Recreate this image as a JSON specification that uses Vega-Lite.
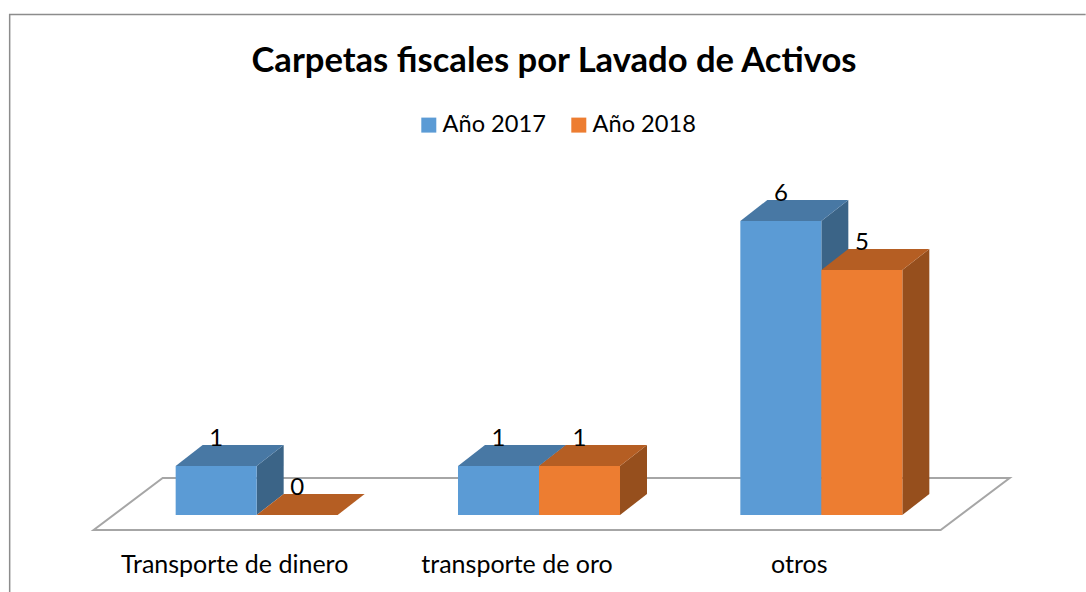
{
  "$schema": "https://vega.github.io/schema/vega-lite/v6.json",
  "width": 1086,
  "height": 592,
  "autosize": "none",
  "padding": 0,
  "background": "white",
  "view": {"stroke": null},
  "title": {"text": "Carpetas fiscales por Lavado de Activos", "font": "Lato", "fontSize": 34.6, "fontWeight": "bold", "color": "#000000", "anchor": "middle", "frame": "group", "dx": 11, "dy": 84},
  "data": {"values": [
    {"category": "Transporte de dinero", "series": "Año 2017", "value": 1},
    {"category": "Transporte de dinero", "series": "Año 2018", "value": 0},
    {"category": "transporte de oro", "series": "Año 2017", "value": 1},
    {"category": "transporte de oro", "series": "Año 2018", "value": 1},
    {"category": "otros", "series": "Año 2017", "value": 6},
    {"category": "otros", "series": "Año 2018", "value": 5}
  ]},
  "encoding": {
    "x": {"field": "category", "type": "nominal", "sort": ["Transporte de dinero", "transporte de oro", "otros"],
      "scale": {"domain": ["Transporte de dinero", "transporte de oro", "otros"], "range": [115.5, 962.5], "paddingInner": 0.4262, "paddingOuter": 0.2131},
      "axis": {"title": null, "orient": "bottom", "offset": -40, "labelOffset": -22, "labelAngle": 0, "labelPadding": 0, "labelFont": "Lato", "labelFontSize": 25, "labelColor": "#000000", "labelBaseline": "top", "labelLimit": 300, "ticks": false, "domain": false, "grid": false}},
    "y": {"field": "value", "type": "quantitative",
      "scale": {"domain": [0, 6], "range": [515, 221], "nice": false},
      "axis": null}
  },
  "layer": [
    {
      "transform": [{"filter": "datum.category === 'Transporte de dinero' && datum.series === 'Año 2018'"}],
      "mark": {"type": "point", "filled": false, "opacity": 1, "size": 4, "stroke": "#8c8c8c", "strokeWidth": 1.5, "shape": "M-247,77L-247,-500.5L829,-500.5"}
    },
    {
      "transform": [{"filter": "datum.category === 'Transporte de dinero' && datum.series === 'Año 2018'"}],
      "mark": {"type": "point", "filled": false, "opacity": 1, "size": 4, "stroke": "#a6a6a6", "strokeWidth": 2, "shape": "M-163,15L684,15L753,-37L-94,-37Z"}
    },
    {
      "mark": {"type": "point", "filled": true, "opacity": 1, "size": 4, "strokeWidth": 0},
      "encoding": {
        "xOffset": {"field": "series", "type": "nominal"},
        "shape": {"field": "value", "type": "ordinal", "legend": null,
          "scale": {"domain": [0, 1, 5, 6], "range": [
            "M40.5,0L67.5,-21Z",
            "M40.5,0L67.5,-21L67.5,28L40.5,49Z",
            "M40.5,0L67.5,-21L67.5,224L40.5,245Z",
            "M40.5,0L67.5,-21L67.5,273L40.5,294Z"
          ]}},
        "fill": {"condition": {"test": "datum.series === 'Año 2017'", "value": "#3B6487"}, "value": "#964F1D"}
      }
    },
    {
      "mark": {"type": "point", "filled": true, "opacity": 1, "size": 4, "strokeWidth": 0, "shape": "M-40.5,0L-13.5,-21L67.5,-21L40.5,0Z"},
      "encoding": {
        "xOffset": {"field": "series", "type": "nominal"},
        "fill": {"condition": {"test": "datum.series === 'Año 2017'", "value": "#4878A4"}, "value": "#B55E23"}
      }
    },
    {
      "mark": {"type": "bar"},
      "encoding": {
        "xOffset": {"field": "series", "type": "nominal"},
        "color": {"field": "series", "type": "nominal",
          "scale": {"domain": ["Año 2017", "Año 2018"], "range": ["#5B9BD5", "#ED7D31"]},
          "legend": {"title": null, "orient": "none", "legendX": 417, "legendY": 113, "direction": "horizontal", "columns": 2, "columnPadding": 21, "symbolType": "square", "symbolSize": 225, "symbolStrokeWidth": 0, "labelFont": "Lato", "labelFontSize": 23.6, "labelColor": "#000000", "labelOffset": 2, "labelLimit": 200}}
      }
    },
    {
      "mark": {"type": "text", "font": "Lato", "fontSize": 24, "color": "#000000", "dy": -27},
      "encoding": {
        "xOffset": {"field": "series", "type": "nominal"},
        "text": {"field": "value", "type": "quantitative"}
      }
    }
  ]
}
